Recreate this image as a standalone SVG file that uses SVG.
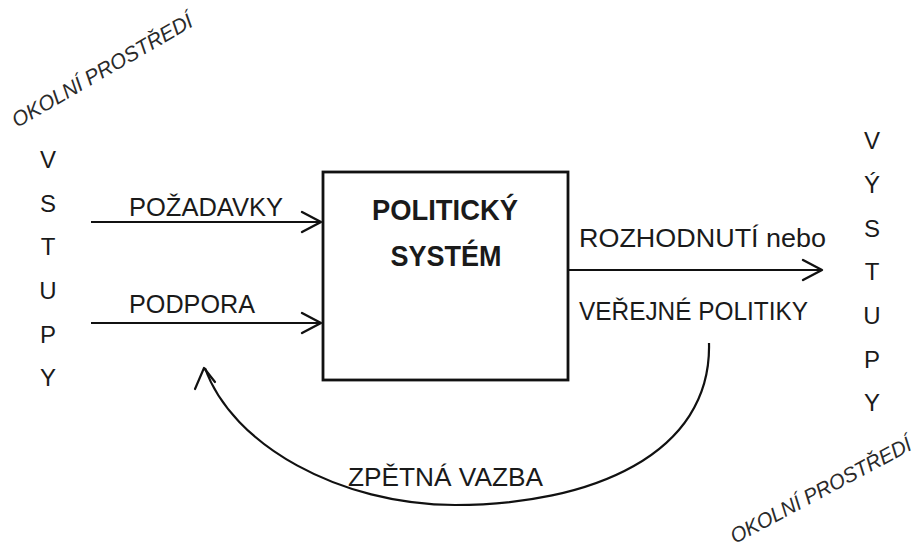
<svg xmlns="http://www.w3.org/2000/svg" width="922" height="557" viewBox="0 0 922 557">
  <style>
    .t { font-family: "Liberation Sans", Arial, sans-serif; font-size: 25px; fill: #1a1a1a; }
    .b { font-family: "Liberation Sans", Arial, sans-serif; font-size: 30px; font-weight: bold; fill: #1a1a1a; }
    .env { font-family: "Liberation Sans", Arial, sans-serif; font-size: 21px; font-style: italic; fill: #2a2a2a; }
    .col { font-family: "Liberation Sans", Arial, sans-serif; font-size: 24px; fill: #1a1a1a; text-anchor: middle; }
    .ln { fill: none; stroke: #111; stroke-width: 2.2; }
  </style>
  <defs>
    <marker id="arr" markerUnits="userSpaceOnUse" markerWidth="24" markerHeight="26" refX="21" refY="12" orient="auto">
      <path d="M2,2 L21,12 L2,22" fill="none" stroke="#111" stroke-width="2.4" stroke-linecap="round" stroke-linejoin="round"/>
    </marker>
  </defs>
  <rect width="922" height="557" fill="#ffffff"/>

  <g id="env-top">
    <text class="env" transform="translate(17,128) rotate(-30)" textLength="205" lengthAdjust="spacingAndGlyphs">OKOLNÍ PROSTŘEDÍ</text>
  </g>
  <g id="env-bottom">
    <text class="env" transform="translate(735,544) rotate(-28)" textLength="202" lengthAdjust="spacingAndGlyphs">OKOLNÍ PROSTŘEDÍ</text>
  </g>

  <g id="vstupy">
    <text class="col" x="48" y="168">V</text>
    <text class="col" x="48" y="212">S</text>
    <text class="col" x="48" y="255">T</text>
    <text class="col" x="48" y="299">U</text>
    <text class="col" x="48" y="343">P</text>
    <text class="col" x="48" y="386">Y</text>
  </g>

  <g id="vystupy">
    <text class="col" x="872" y="149">V</text>
    <text class="col" x="872" y="193">Ý</text>
    <text class="col" x="872" y="237">S</text>
    <text class="col" x="872" y="280">T</text>
    <text class="col" x="872" y="324">U</text>
    <text class="col" x="872" y="368">P</text>
    <text class="col" x="872" y="411">Y</text>
  </g>

  <g id="politicky-system">
    <rect x="323" y="172" width="245" height="208" fill="#fff" stroke="#111" stroke-width="2.8"/>
    <text class="b" x="445" y="220" text-anchor="middle" textLength="146" lengthAdjust="spacingAndGlyphs">POLITICKÝ</text>
    <text class="b" x="446" y="266" text-anchor="middle" textLength="111" lengthAdjust="spacingAndGlyphs">SYSTÉM</text>
  </g>

  <g id="connectors">
    <line class="ln" x1="91" y1="222" x2="321" y2="222" marker-end="url(#arr)"/>
    <line class="ln" x1="91" y1="323" x2="321" y2="323" marker-end="url(#arr)"/>
    <line class="ln" x1="569" y1="270" x2="822" y2="270" marker-end="url(#arr)"/>
    <path class="ln" d="M709,343 C712,455 590,505 455,505 C340,505 232,445 205,368"/>
    <polyline class="ln" points="195,389 204,368 215,382" stroke-linecap="round" stroke-linejoin="round"/>
  </g>

  <g id="labels">
    <text class="t" x="129" y="216" textLength="154" lengthAdjust="spacingAndGlyphs">POŽADAVKY</text>
    <text class="t" x="129" y="313" textLength="126" lengthAdjust="spacingAndGlyphs">PODPORA</text>
    <text class="t" x="579" y="247" textLength="247" lengthAdjust="spacingAndGlyphs">ROZHODNUTÍ nebo</text>
    <text class="t" x="579" y="320" textLength="229" lengthAdjust="spacingAndGlyphs">VEŘEJNÉ POLITIKY</text>
    <text class="t" x="348" y="486" textLength="195" lengthAdjust="spacingAndGlyphs">ZPĚTNÁ VAZBA</text>
  </g>
</svg>
